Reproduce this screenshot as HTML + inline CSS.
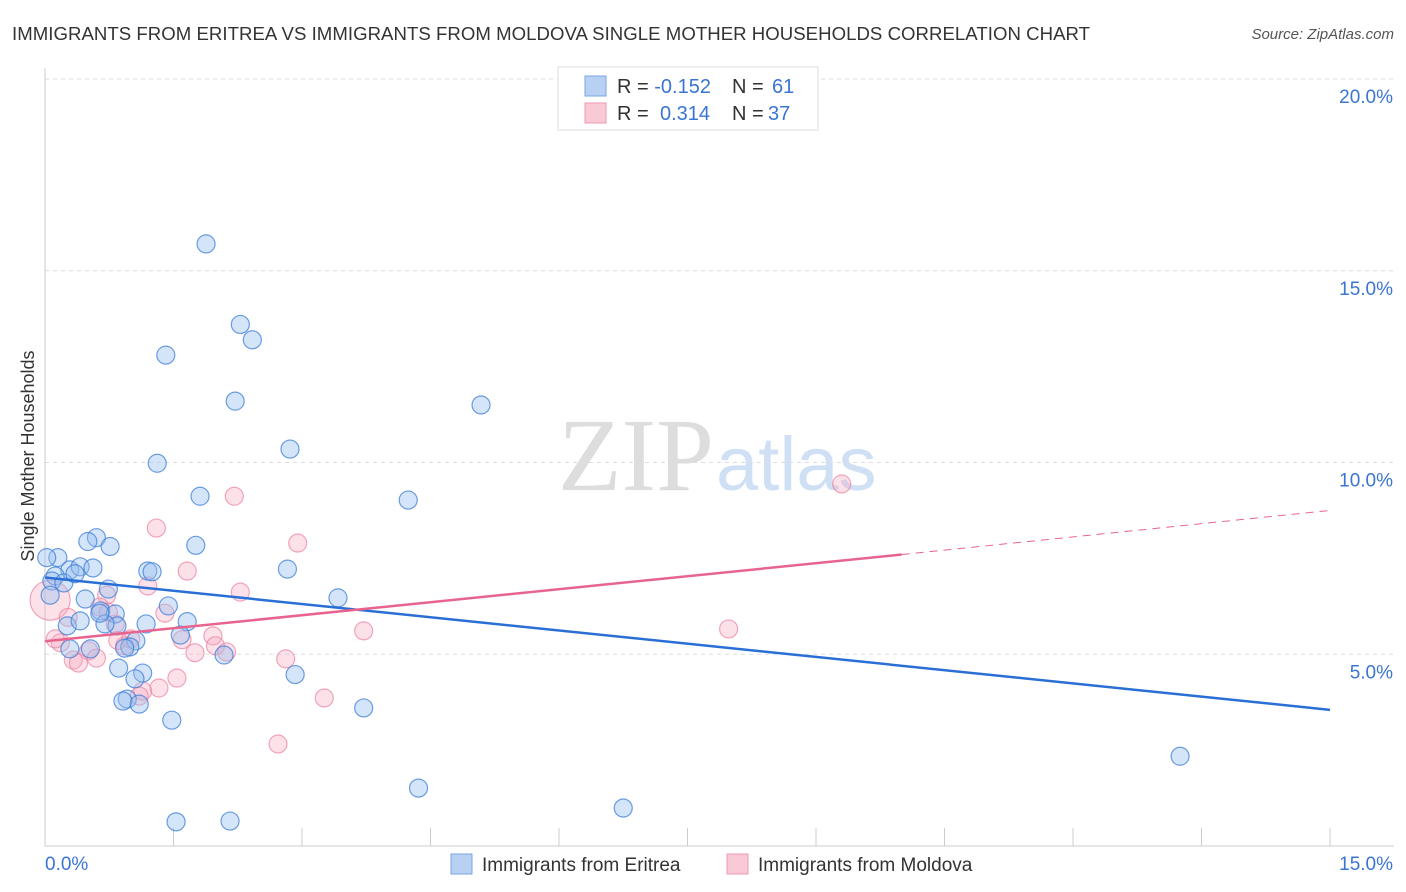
<!DOCTYPE html>
<html><head><meta charset="utf-8"><style>
body{margin:0;background:#fff;font-family:"Liberation Sans",sans-serif;}
#wrap{position:relative;width:1406px;height:892px;overflow:hidden;}
</style></head><body>
<div id="wrap">
<svg id="svg" width="1406" height="892" xmlns="http://www.w3.org/2000/svg" style="position:absolute;left:0;top:0">
<text x="12" y="40" font-size="18.6" fill="#333" textLength="1078">IMMIGRANTS FROM ERITREA VS IMMIGRANTS FROM MOLDOVA SINGLE MOTHER HOUSEHOLDS CORRELATION CHART</text>
<text x="1394" y="39" font-size="15" fill="#555" font-style="italic" text-anchor="end">Source: ZipAtlas.com</text>
<text x="34" y="456" font-size="18" fill="#333" transform="rotate(-90 34 456)" text-anchor="middle">Single Mother Households</text>
<text x="714" y="490" font-size="104" fill="#ddd" text-anchor="end" font-family="Liberation Serif,serif">ZIP</text>
<text x="716" y="490" font-size="76" fill="#cfe0f5">atlas</text>
<g id="grid"></g><g id="marks"></g><g id="lines"></g>
<g>
<rect x="558" y="67" width="260" height="63" fill="#fff" stroke="#ddd"/>
<rect x="585" y="76" width="21" height="20" fill="#b8d1f3" stroke="#7aa6e6"/>
<rect x="585" y="103" width="21" height="20" fill="#f9c9d6" stroke="#ee99b2"/>
<text x="617" y="93" font-size="20" fill="#333">R = <tspan fill="#3a75d4">-0.152</tspan><tspan x="732">N = </tspan><tspan fill="#3a75d4" x="772">61</tspan></text>
<text x="617" y="120" font-size="20" fill="#333">R = <tspan fill="#3a75d4" x="660">0.314</tspan><tspan x="732">N = </tspan><tspan fill="#3a75d4" x="768">37</tspan></text>
</g>
<g>
<rect x="451" y="854" width="21" height="20" fill="#b8d1f3" stroke="#7aa6e6"/>
<text x="482" y="871" font-size="19" fill="#333">Immigrants from Eritrea</text>
<rect x="727" y="854" width="21" height="20" fill="#f9c9d6" stroke="#ee99b2"/>
<text x="758" y="871" font-size="19" fill="#333">Immigrants from Moldova</text>
</g>
</svg></div>
<script>
const yTicks=[5,10,15,20];
const yTickLabels=["5.0%","10.0%","15.0%","20.0%"];
const xTickCount=10;
const xLabels=["0.0%","15.0%"];
const blueX=[1.88,2.28,2.42,1.41,2.22,5.09,2.86,1.31,1.81,4.24,0.60,0.50,0.76,1.76,0.15,0.02,0.29,0.41,0.56,1.20,1.25,2.83,0.12,0.08,0.22,0.74,0.06,3.42,0.47,1.44,0.65,0.82,1.66,1.18,0.26,0.41,0.84,0.70,1.06,0.99,0.93,0.29,0.53,2.09,0.86,2.92,1.14,1.05,0.96,0.91,1.10,3.72,1.48,13.25,4.36,6.75,1.53,2.16,0.64,1.58,0.35];
const blueY=[15.7,13.6,13.2,12.8,11.6,11.5,10.35,9.98,9.12,9.02,8.04,7.94,7.81,7.84,7.52,7.52,7.20,7.28,7.25,7.17,7.15,7.22,7.04,6.91,6.86,6.70,6.54,6.47,6.44,6.26,6.13,6.05,5.85,5.79,5.74,5.87,5.74,5.79,5.35,5.19,5.16,5.14,5.14,4.98,4.64,4.47,4.51,4.36,3.83,3.78,3.70,3.60,3.28,2.34,1.51,0.99,0.63,0.65,6.07,5.50,7.10];
const pinkX=[2.21,9.30,1.30,2.95,1.66,1.20,2.28,0.72,0.06,0.64,1.40,0.27,0.82,3.72,7.98,1.60,1.96,0.18,0.12,0.85,1.00,1.99,2.12,1.75,0.51,2.81,0.33,0.39,0.60,1.54,1.33,1.14,1.10,3.26,2.72,0.93,0.74];
const pinkY=[9.12,9.44,8.29,7.90,7.17,6.78,6.62,6.54,6.41,6.23,6.07,5.96,5.79,5.61,5.66,5.38,5.48,5.30,5.40,5.36,5.40,5.22,5.06,5.04,5.09,4.88,4.85,4.77,4.90,4.38,4.12,4.04,3.91,3.86,2.66,5.22,6.10];
const blueTrend=[0,7.0,15,3.55];
const pinkTrend=[0,5.34,10.0,7.6,15,8.75];
const X0=45,X1=1330,Y0=846,Y1=79;
function xs(v){return X0+v/15*(X1-X0);}
function ys(v){return Y0-v/20*(Y0-Y1);}
const NS="http://www.w3.org/2000/svg";
function mk(t,a,p){const e=document.createElementNS(NS,t);for(const k in a)e.setAttribute(k,a[k]);p.appendChild(e);return e;}
const grid=document.getElementById('grid');
yTicks.forEach((t,i)=>{
 const l=mk('line',{x1:X0,x2:1394,y1:ys(t),y2:ys(t),stroke:'#ddd','stroke-dasharray':'4,4'},grid);
 
 
 const tx=mk('text',{x:1393,y:ys(t)+24,'font-size':19,fill:'#3a75d4','text-anchor':'end'},grid);
 tx.textContent=yTickLabels[i];
 
 
});
mk('line',{x1:X0,x2:X0,y1:68,y2:Y0,stroke:'#ccc'},grid);
mk('line',{x1:X0,x2:1394,y1:Y0,y2:Y0,stroke:'#ccc'},grid);
for(let i=0;i<=xTickCount;i++){const x=xs(i*1.5);const t=mk('line',{x1:x,x2:x,y1:Y0-18,y2:Y0,stroke:'#ccc'},grid);
 
 }
const xl0=mk('text',{x:45,y:870,'font-size':19,fill:'#3a75d4'},grid);xl0.textContent=xLabels[0];


const xl1=mk('text',{x:1393,y:870,'font-size':19,fill:'#3a75d4','text-anchor':'end'},grid);xl1.textContent=xLabels[1];


const marks=document.getElementById('marks');
pinkX.forEach((v,i)=>{const c=mk('circle',{cx:xs(v),cy:ys(pinkY[i]),r:i==8?20:9,fill:'rgba(246,170,193,0.35)',stroke:'rgba(236,130,163,0.7)','stroke-width':1.2},marks);
 
 });
blueX.forEach((v,i)=>{const c=mk('circle',{cx:xs(v),cy:ys(blueY[i]),r:9,fill:'rgba(150,190,240,0.4)',stroke:'rgba(60,125,215,0.75)','stroke-width':1.2},marks);
 
 });
const lines=document.getElementById('lines');
const bl=mk('line',{x1:xs(blueTrend[0]),y1:ys(blueTrend[1]),x2:xs(blueTrend[2]),y2:ys(blueTrend[3]),stroke:'#2a6fd6','stroke-width':2.5},lines);


const pl=mk('line',{x1:xs(pinkTrend[0]),y1:ys(pinkTrend[1]),x2:xs(pinkTrend[2]),y2:ys(pinkTrend[3]),stroke:'#e8648f','stroke-width':2.5},lines);


const pd=mk('line',{x1:xs(pinkTrend[2]),y1:ys(pinkTrend[3]),x2:xs(pinkTrend[4]),y2:ys(pinkTrend[5]),stroke:'#e8648f','stroke-width':1,'stroke-dasharray':'8,6'},lines);


</script>
</body></html>
